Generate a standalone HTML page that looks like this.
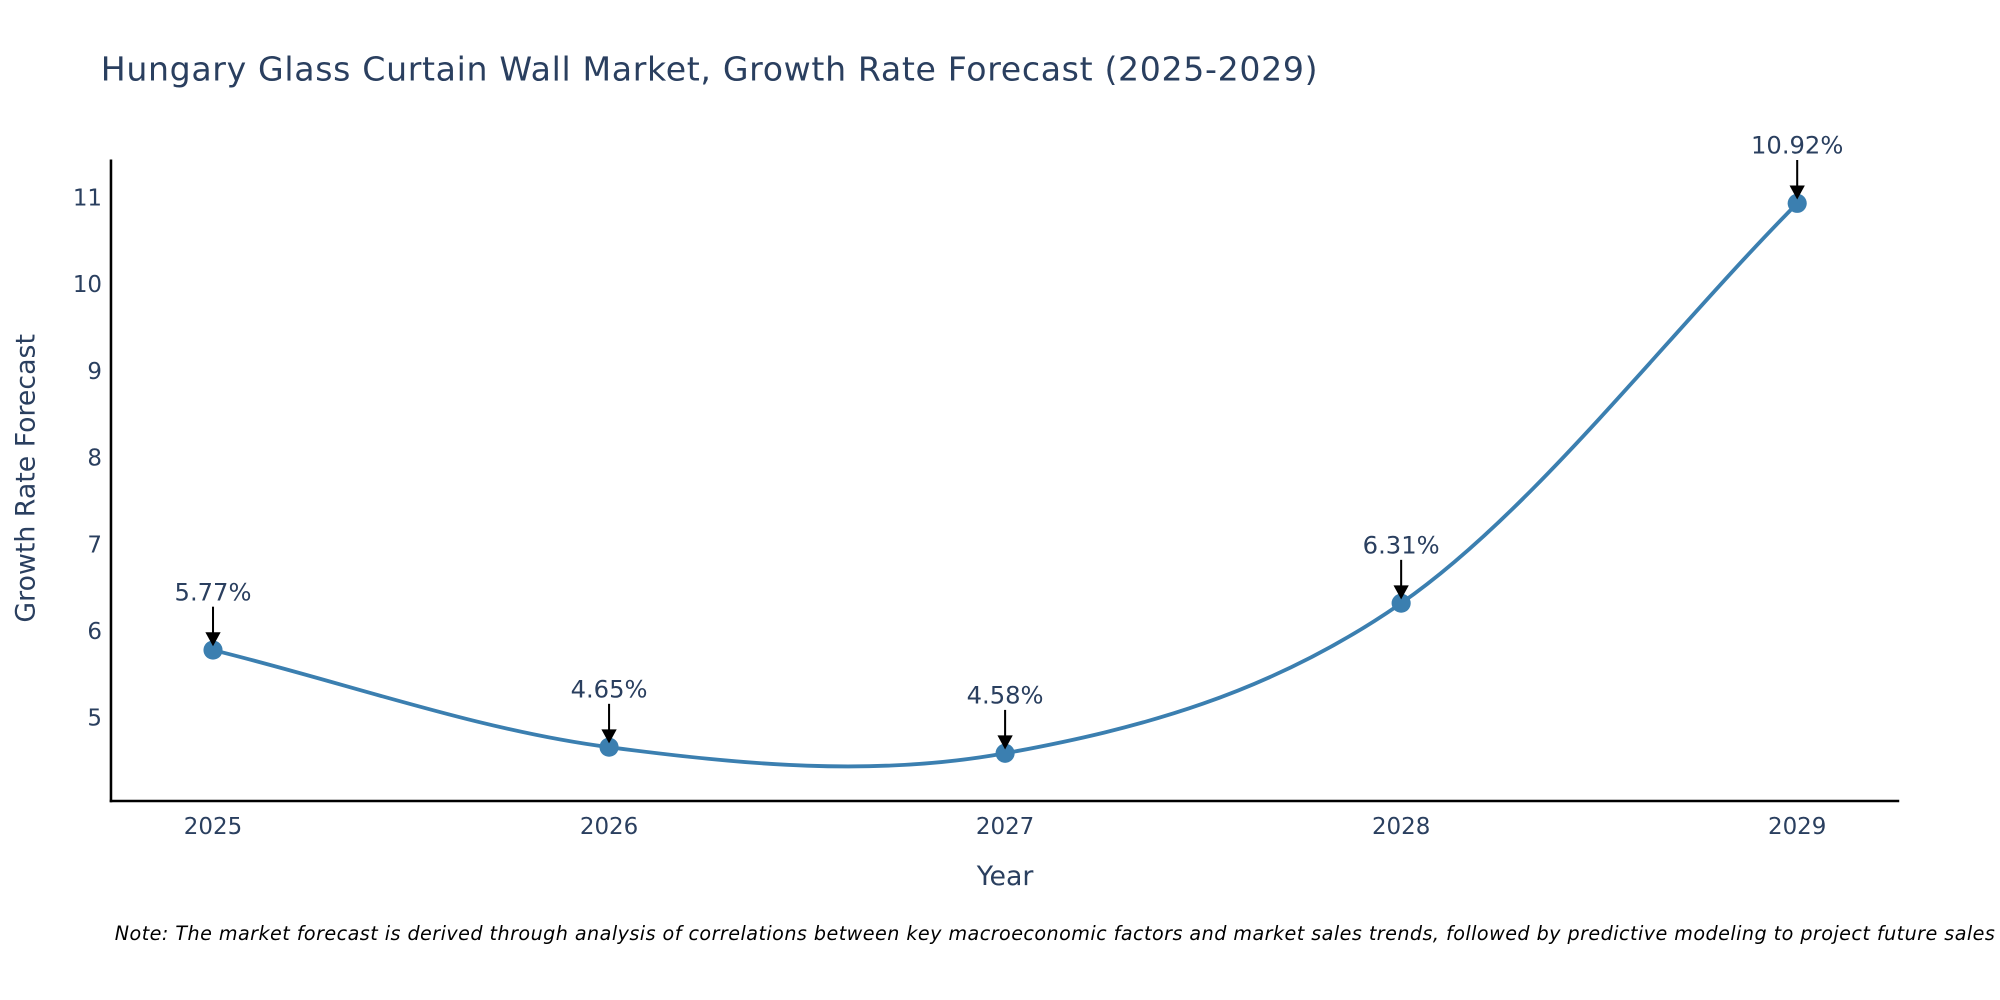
<!DOCTYPE html>
<html><head><meta charset="utf-8"><style>
html,body{margin:0;padding:0;background:#fff;}
svg{display:block;font-family:"DejaVu Sans","Liberation Sans",sans-serif;}
</style></head><body>
<svg id="chart" width="2000" height="1000" viewBox="0 0 1568 784" xmlns="http://www.w3.org/2000/svg">
<text x="79" y="63" font-size="26" fill="#2a3f5f" textLength="954">Hungary Glass Curtain Wall Market, Growth Rate Forecast (2025-2029)</text>
<g id="yticks"></g>
<g id="xticks"></g>
<line x1="87" y1="125" x2="87" y2="629" stroke="#000" stroke-width="2"/>
<line x1="86" y1="628" x2="1489" y2="628" stroke="#000" stroke-width="2"/>
<path id="line" fill="none" stroke="#3b7fb0" stroke-width="3"/>
<g id="points"></g>
<g id="annots"></g>
<text x="788" y="694" font-size="21" fill="#2a3f5f" text-anchor="middle">Year</text>
<text transform="translate(27,375) rotate(-90)" font-size="21" fill="#2a3f5f" text-anchor="middle">Growth Rate Forecast</text>
<text x="90" y="737" font-size="15" font-style="italic" fill="#000" textLength="1474">Note: The market forecast is derived through analysis of correlations between key macroeconomic factors and market sales trends, followed by predictive modeling to project future sales</text>
</svg>
<script>
const years = [2025, 2026, 2027, 2028, 2029];
const values = [5.77, 4.65, 4.58, 6.31, 10.92];
const labels = ["5.77%", "4.65%", "4.58%", "6.31%", "10.92%"];
const yTicks = [5, 6, 7, 8, 9, 10, 11];
const NS = "http://www.w3.org/2000/svg";
function xs(v){ return 167 + (v - 2025) * 310.5; }
function ys(v){ return 562 - (v - 5) * 68; }
function mk(tag, attrs, parent){ const e = document.createElementNS(NS, tag); for (const k in attrs) e.setAttribute(k, attrs[k]); parent.appendChild(e); return e; }
const yg = document.getElementById('yticks');
yTicks.forEach(t => {
  const e = mk('text', {x: 80, y: ys(t) + 7, 'font-size': 18, fill: '#2a3f5f', 'text-anchor': 'end'}, yg);
  
  
  e.textContent = t;
});
const xg = document.getElementById('xticks');
years.forEach(t => {
  const e = mk('text', {x: xs(t), y: 654, 'font-size': 18, fill: '#2a3f5f', 'text-anchor': 'middle'}, xg);
  
  
  e.textContent = t;
});
const P = years.map((y, i) => [xs(y), ys(values[i])]);
let d = 'M' + P[0][0] + ',' + P[0][1];
const k = 1/6;
for (let i = 0; i < P.length - 1; i++) {
  const p1 = P[i], p2 = P[i+1];
  const p0 = P[i-1] || [2*p1[0]-p2[0], 2*p1[1]-p2[1]];
  const p3 = P[i+2] || [2*p2[0]-p1[0], 2*p2[1]-p1[1]];
  const c1 = [p1[0] + (p2[0]-p0[0])*k, p1[1] + (p2[1]-p0[1])*k];
  const c2 = [p2[0] - (p3[0]-p1[0])*k, p2[1] - (p3[1]-p1[1])*k];
  d += ' C' + c1 + ' ' + c2 + ' ' + p2;
}
document.getElementById('line').setAttribute('d', d);
const pg = document.getElementById('points'), ag = document.getElementById('annots');
P.forEach((p, i) => {
  const c = mk('circle', {cx: p[0], cy: p[1], r: 7.5, fill: '#3b7fb0'}, pg);
  
  
  const l = mk('line', {x1: p[0], y1: p[1] - 34, x2: p[0], y2: p[1] - 12, stroke: '#000', 'stroke-width': 1.6}, ag);
  
  
  const a = mk('polygon', {points: (p[0]-6)+','+(p[1]-14)+' '+(p[0]+6)+','+(p[1]-14)+' '+p[0]+','+(p[1]-3), fill: '#000'}, ag);
  
  
  const t = mk('text', {x: p[0], y: p[1] - 39, 'font-size': 19, fill: '#2a3f5f', 'text-anchor': 'middle'}, ag);
  
  
  t.textContent = labels[i];
});
</script>
</body></html>
